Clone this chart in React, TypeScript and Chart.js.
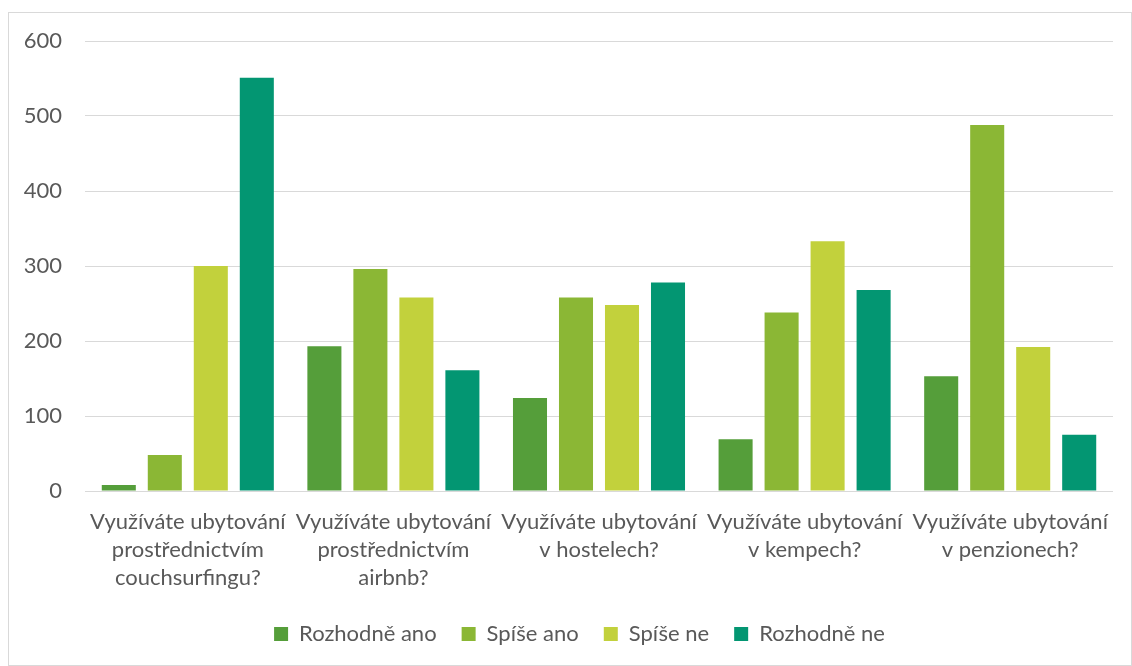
import React, { useEffect, useRef } from "react";
import { Chart, registerables } from "chart.js";

Chart.register(...registerables);

const categories: string[][] = [
  ["Využíváte ubytování", "prostřednictvím", "couchsurfingu?"],
  ["Využíváte ubytování", "prostřednictvím", "airbnb?"],
  ["Využíváte ubytování", "v hostelech?"],
  ["Využíváte ubytování", "v kempech?"],
  ["Využíváte ubytování", "v penzionech?"],
];
const seriesNames = ["Rozhodně ano", "Spíše ano", "Spíše ne", "Rozhodně ne"];
const rozhodneAno = [8, 193, 124, 69, 153];
const spiseAno = [48, 296, 258, 238, 488];
const spiseNe = [300, 258, 248, 333, 192];
const rozhodneNe = [551, 161, 278, 268, 75];
const seriesColors = ["#559E3A", "#8BB735", "#C2D13C", "#039672"];
const yMin = 0;
const yMax = 600;
const yStep = 100;

const FONT = "Lato, 'Open Sans', sans-serif";
const TEXT = "#595959";

const legendShift = {
  id: "legendShift",
  afterLayout(chart: any) {
    if (chart.legend) {
      chart.legend.left += 23;
      chart.legend.right += 23;
    }
  },
};

export default function App() {
  const ref = useRef<HTMLCanvasElement | null>(null);

  useEffect(() => {
    if (!ref.current) return;
    const values = [rozhodneAno, spiseAno, spiseNe, rozhodneNe];
    const chart = new Chart(ref.current, {
      type: "bar",
      data: {
        labels: categories,
        datasets: seriesNames.map((name, i) => ({
          label: name,
          data: values[i],
          backgroundColor: seriesColors[i],
          borderWidth: 0,
          categoryPercentage: 0.895,
          barPercentage: 0.74,
        })),
      },
      plugins: [legendShift],
      options: {
        animation: false,
        responsive: false,
        maintainAspectRatio: false,
        layout: { padding: { left: 0, right: 19, top: 41, bottom: 11 } },
        plugins: {
          tooltip: { enabled: false },
          legend: {
            position: "bottom",
            labels: {
              color: TEXT,
              font: { family: FONT, size: 22 },
              boxWidth: 14,
              boxHeight: 14,
              padding: 25,
            },
          },
        },
        scales: {
          x: {
            grid: { display: false, drawTicks: false },
            border: { display: false },
            ticks: {
              color: TEXT,
              font: { family: FONT, size: 22, lineHeight: "28px" } as any,
              padding: 17,
              maxRotation: 0,
              minRotation: 0,
              autoSkip: false,
            },
            afterFit: (scale: any) => {
              scale.height = 107;
            },
          },
          y: {
            min: yMin,
            max: yMax,
            grid: { color: "#d9d9d9", lineWidth: 1, drawTicks: false },
            border: { display: false },
            ticks: {
              stepSize: yStep,
              color: TEXT,
              font: { family: FONT, size: 22 },
              padding: 23,
            },
            afterFit: (scale: any) => {
              scale.width = 85;
            },
          },
        },
      },
    });
    return () => chart.destroy();
  }, []);

  return (
    <div style={{ position: "absolute", left: 0, top: 0, width: 1132, height: 666, background: "#fff" }}>
      <div
        style={{
          position: "absolute",
          left: 8,
          top: 12,
          width: 1124,
          height: 654,
          boxSizing: "border-box",
          border: "1px solid #d9d9d9",
        }}
      />
      <canvas
        ref={ref}
        width={1132}
        height={666}
        style={{ position: "absolute", left: 0, top: 0, width: 1132, height: 666 }}
      />
    </div>
  );
}
